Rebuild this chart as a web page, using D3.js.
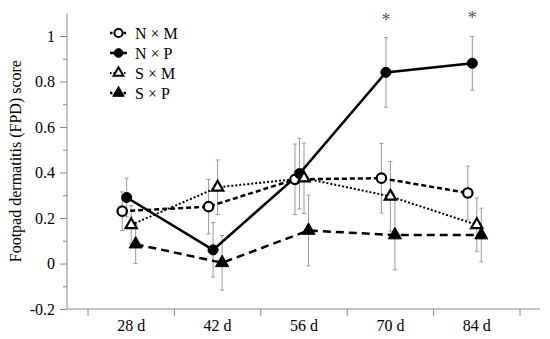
<!DOCTYPE html>
<html>
<head>
<meta charset="utf-8">
<script src="https://cdn.jsdelivr.net/npm/d3@7"></script>
<style>
  html, body { margin: 0; padding: 0; background: #fff; }
  svg { display: block; }
  svg text { font-family: "Liberation Serif", "DejaVu Serif", serif; }
</style>
</head>
<body>
<div id="chart"></div>
<script>
// sampling days
const days = ["28 d", "42 d", "56 d", "70 d", "84 d"];

// treatment groups
const groups = ["N × M", "N × P", "S × M", "S × P"];

// mean FPD score per group
const nmValues = [0.23, 0.25, 0.37, 0.375, 0.31];
const npValues = [0.29, 0.06, 0.395, 0.84, 0.88];
const smValues = [0.17, 0.335, 0.375, 0.295, 0.17];
const spValues = [0.085, 0.003, 0.145, 0.125, 0.125];

// error bar half-widths (same for all groups at one day)
const nmErr = [0.085, 0.12, 0.155, 0.153, 0.118];
const npErr = [0.085, 0.12, 0.155, 0.153, 0.118];
const smErr = [0.085, 0.12, 0.155, 0.153, 0.118];
const spErr = [0.085, 0.12, 0.155, 0.153, 0.118];

// significance marks (for N × P)
const starDays = ["70 d", "84 d"];

const yTicks = [-0.2, 0, 0.2, 0.4, 0.6, 0.8, 1];
const yMinor = [-0.1, 0.1, 0.3, 0.5, 0.7, 0.9];

let width = 550;
let height = 339;
const serif = "'Liberation Serif', 'DejaVu Serif', serif";

const series = [
  {name: groups[0], values: nmValues, err: nmErr, dash: "5,3", lw: 2.5, shape: d3.symbolCircle, size: 70, filled: false},
  {name: groups[1], values: npValues, err: npErr, dash: null, lw: 2.5, shape: d3.symbolCircle, size: 80, filled: true},
  {name: groups[2], values: smValues, err: smErr, dash: "2,2", lw: 2, shape: d3.symbolTriangle, size: 55, filled: false},
  {name: groups[3], values: spValues, err: spErr, dash: "8,5", lw: 2.5, shape: d3.symbolTriangle, size: 75, filled: true}
];

const axisLeftX = 67, axisRightX = 540;

const x = d3.scaleBand().domain(days).range([88, 520]);
const dodge = d3.scalePoint().domain(groups).range([-9, 4.5]);
const y = d3.scaleLinear().domain([-0.2, 1.1]).range([309, 13.25]);

const px = (s, i) => x(days[i]) + x.bandwidth() / 2 + dodge(s.name);

const svg = d3.select("#chart").append("svg")
  .attr("width", width)
  .attr("height", height);

// y axis
const gy = svg.append("g").attr("transform", `translate(${axisLeftX},0)`);
gy.call(d3.axisLeft(y).tickValues(yTicks).tickSize(7).tickPadding(5)
    .tickFormat(d => String(+d.toFixed(1))));
gy.append("g").call(d3.axisLeft(y).tickValues(yMinor).tickSize(4).tickFormat(""));
gy.attr("font-family", serif);
gy.selectAll("g").attr("font-family", serif);
gy.selectAll("path.domain").remove();
gy.selectAll("line").attr("stroke", "#888");
gy.selectAll("text").attr("fill", "#000").attr("font-family", serif).attr("font-size", 16);
svg.append("line")
  .attr("x1", axisLeftX).attr("x2", axisLeftX)
  .attr("y1", y(1.1)).attr("y2", y(-0.2))
  .attr("stroke", "#888");

// x axis
svg.append("line")
  .attr("x1", axisLeftX).attr("x2", axisRightX)
  .attr("y1", y(-0.2)).attr("y2", y(-0.2))
  .attr("stroke", "#888");
const edges = days.map(d => x(d)).concat([x.range()[1]]);
svg.append("g").selectAll("line").data(edges).join("line")
  .attr("x1", d => d).attr("x2", d => d)
  .attr("y1", y(-0.2)).attr("y2", y(-0.2) + 7)
  .attr("stroke", "#888");
svg.append("g").selectAll("text").data(days).join("text")
  .attr("x", d => x(d) + x.bandwidth() / 2)
  .attr("y", 331)
  .attr("text-anchor", "middle")
  .attr("font-family", serif)
  .attr("font-size", 16)
  .text(d => d);

// y title
svg.append("text")
  .attr("transform", `translate(21,${(y(1.1) + y(-0.2)) / 2}) rotate(-90)`)
  .attr("text-anchor", "middle")
  .attr("font-family", serif)
  .attr("font-size", 16)
  .text("Footpad dermatitis (FPD) score");

// error bars
const eb = svg.append("g").attr("stroke", "#999").attr("stroke-width", 1);
series.forEach(s => {
  s.values.forEach((v, i) => {
    const cx = px(s, i);
    const top = y(v + s.err[i]), bot = y(v - s.err[i]);
    eb.append("line").attr("x1", cx).attr("x2", cx).attr("y1", top).attr("y2", bot);
    eb.append("line").attr("x1", cx - 2).attr("x2", cx + 2).attr("y1", top).attr("y2", top);
    eb.append("line").attr("x1", cx - 2).attr("x2", cx + 2).attr("y1", bot).attr("y2", bot);
  });
});

// lines
const line = d3.line().x(d => d[0]).y(d => d[1]);
series.forEach(s => {
  svg.append("path")
    .attr("d", line(s.values.map((v, i) => [px(s, i), y(v)])))
    .attr("fill", "none")
    .attr("stroke", "#000")
    .attr("stroke-width", s.lw)
    .attr("stroke-dasharray", s.dash);
});

// markers
series.forEach(s => {
  svg.append("g").selectAll("path").data(s.values).join("path")
    .attr("transform", (v, i) => `translate(${px(s, i)},${y(v)})`)
    .attr("d", d3.symbol().type(s.shape).size(s.size))
    .attr("fill", s.filled ? "#000" : "#fff")
    .attr("stroke", "#000")
    .attr("stroke-width", s.filled ? 1 : 2.2);
});

// asterisks above N × P error bars
const np = series[1];
svg.append("g").selectAll("text").data(starDays).join("text")
  .attr("x", d => px(np, days.indexOf(d)))
  .attr("y", d => { const i = days.indexOf(d); return y(np.values[i] + np.err[i]) - 12; })
  .attr("text-anchor", "middle")
  .attr("fill", "#555")
  .attr("font-family", serif)
  .attr("font-size", 18)
  .text("*");

// legend
const lg = svg.append("g");
series.forEach((s, k) => {
  const cy = 33 + k * 20;
  lg.append("line")
    .attr("x1", 110).attr("x2", 127).attr("y1", cy).attr("y2", cy)
    .attr("stroke", "#000").attr("stroke-width", s.lw)
    .attr("stroke-dasharray", s.dash ? (s.dash === "2,2" ? "1.5,2" : "2.5,2") : null);
  lg.append("path")
    .attr("transform", `translate(118.5,${cy})`)
    .attr("d", d3.symbol().type(s.shape).size(s.size * 0.75))
    .attr("fill", s.filled ? "#000" : "#fff")
    .attr("stroke", "#000")
    .attr("stroke-width", s.filled ? 1 : 2);
  lg.append("text")
    .attr("x", 135).attr("y", cy + 5.5)
    .attr("font-family", serif)
    .attr("font-size", 16)
    .text(s.name);
});
</script>
</body>
</html>
